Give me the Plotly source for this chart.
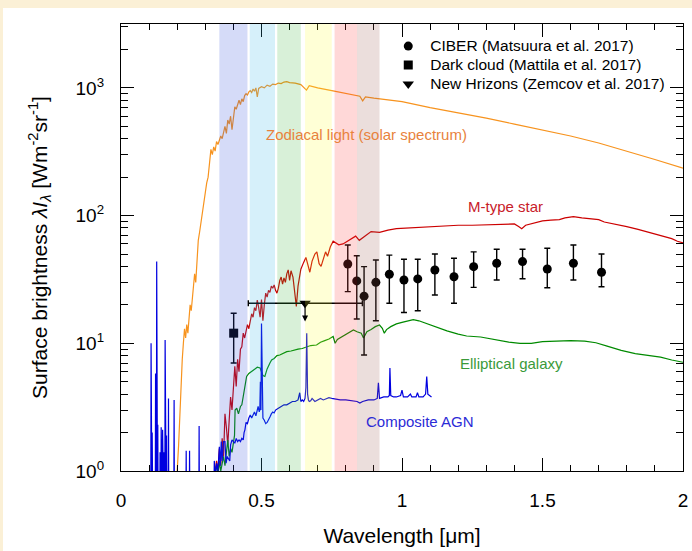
import numpy as np
import plotly.graph_objects as go

# ---------------- spectra ----------------
zodi_wl = [0.195, 0.200, 0.205, 0.210, 0.215, 0.218, 0.222, 0.226, 0.230, 0.234, 0.238, 0.242,
           0.246, 0.250, 0.254, 0.258, 0.262, 0.266, 0.270, 0.275, 0.280, 0.285, 0.290, 0.295,
           0.300, 0.305, 0.310, 0.315, 0.320, 0.325, 0.330, 0.335, 0.340, 0.345, 0.350, 0.355,
           0.360, 0.365, 0.370, 0.375, 0.380, 0.385, 0.390, 0.395, 0.400, 0.405, 0.410, 0.415,
           0.420, 0.425, 0.430, 0.435, 0.440, 0.445, 0.450, 0.455, 0.460, 0.465, 0.470, 0.475,
           0.480, 0.485, 0.490, 0.500, 0.510, 0.520, 0.530, 0.540, 0.550, 0.560, 0.570, 0.580,
           0.590, 0.600, 0.620, 0.640, 0.650, 0.660, 0.670, 0.700, 0.750, 0.800, 0.850, 0.860,
           0.870, 0.900, 0.950, 1.000, 1.100, 1.200, 1.300, 1.400, 1.500, 1.600, 1.700, 1.800,
           1.900, 2.000]
zodi_val = [0.8, 1.0, 1.6, 3.0, 6.5, 7.5, 10, 13, 11, 14, 12, 17,
            20, 18, 22, 26, 35, 30, 45, 64, 75, 90, 110, 130,
            160, 180, 200, 260, 330, 300, 345, 320, 380, 360, 390, 420,
            400, 450, 500, 440, 560, 520, 600, 470, 620, 710, 680, 760,
            800, 740, 820, 780, 870, 900, 880, 930, 950, 920, 980, 940,
            1000, 850, 990, 1020, 1000, 1050, 1030, 1070, 1060, 1090, 1080, 1110,
            1120, 1100, 1090, 1060, 1000, 960, 1040, 1000, 950, 900, 860, 790,
            850, 830, 800, 780, 700, 640, 580, 520, 470, 420, 370, 320,
            275, 235]

mstar_wl = [0.330, 0.340, 0.345, 0.350, 0.355, 0.360, 0.365, 0.370, 0.375, 0.380, 0.385, 0.390,
            0.395, 0.400, 0.405, 0.410, 0.415, 0.420, 0.425, 0.430, 0.435, 0.440, 0.445, 0.450,
            0.455, 0.460, 0.465, 0.470, 0.475, 0.480, 0.485, 0.490, 0.495, 0.500, 0.505, 0.510,
            0.515, 0.520, 0.525, 0.530, 0.535, 0.540, 0.545, 0.550, 0.555, 0.560, 0.565, 0.570,
            0.575, 0.580, 0.585, 0.590, 0.595, 0.600, 0.605, 0.612, 0.618, 0.624, 0.630, 0.640,
            0.650, 0.658, 0.664, 0.672, 0.680, 0.690, 0.697, 0.705, 0.712, 0.720, 0.728, 0.735,
            0.745, 0.755, 0.765, 0.775, 0.790, 0.805, 0.820, 0.835, 0.848, 0.860, 0.875, 0.890,
            0.920, 0.950, 0.980, 1.020, 1.060, 1.110, 1.150, 1.200, 1.250, 1.300, 1.350, 1.400,
            1.415, 1.426, 1.440, 1.470, 1.500, 1.530, 1.560, 1.580, 1.610, 1.640, 1.670, 1.700,
            1.720, 1.760, 1.800, 1.840, 1.880, 1.920, 1.960, 1.980, 2.000]
mstar_val = [0.8, 1.2, 1.0, 1.5, 1.1, 1.8, 1.3, 2.8, 2.2, 1.6, 2.5, 3.8,
             3.0, 4.5, 6.6, 4.6, 7.5, 6.0, 9.0, 9.4, 12, 11, 12.5, 14,
             13, 15.2, 17, 16, 19, 18, 21.8, 19, 16, 22, 15, 20,
             24.7, 23, 26, 25, 28, 27, 28.6, 26, 24.7, 27, 31, 33,
             29, 32.5, 30, 35, 37.6, 31, 37, 33, 25, 19.4, 28, 38,
             43, 47, 42, 36, 44, 50, 52, 42, 40, 46, 52, 48,
             57, 63, 61, 59, 60, 63, 66, 69, 64, 67, 72, 75,
             74, 77, 79, 80, 80, 82, 83, 84, 84, 85, 86, 86,
             82, 79, 84, 88, 91, 92, 93, 96, 98, 96, 95, 93,
             89, 86, 82, 78, 74, 70, 66, 63, 61]

gal_wl = [0.330, 0.340, 0.345, 0.350, 0.355, 0.360, 0.365, 0.370, 0.375, 0.380, 0.385, 0.390,
          0.395, 0.400, 0.404, 0.406, 0.412, 0.418, 0.425, 0.430, 0.436, 0.442, 0.447, 0.455,
          0.465, 0.475, 0.485, 0.495, 0.505, 0.512, 0.520, 0.530, 0.536, 0.545, 0.555, 0.565,
          0.577, 0.590, 0.605, 0.619, 0.630, 0.645, 0.660, 0.675, 0.696, 0.710, 0.725, 0.740,
          0.755, 0.762, 0.770, 0.785, 0.800, 0.815, 0.827, 0.840, 0.855, 0.863, 0.875, 0.890,
          0.905, 0.920, 0.930, 0.937, 0.945, 0.960, 0.980, 1.000, 1.020, 1.040, 1.060, 1.090,
          1.120, 1.160, 1.200, 1.230, 1.280, 1.330, 1.380, 1.420, 1.460, 1.500, 1.550, 1.600,
          1.650, 1.690, 1.730, 1.780, 1.830, 1.870, 1.920, 1.960, 2.000]
gal_val = [0.9, 1.1, 0.9, 1.2, 1.0, 1.15, 1.3, 1.1, 1.4, 1.75, 1.3, 1.5,
           1.4, 1.6, 1.9, 3.0, 3.1, 2.8, 3.2, 3.3, 4.0, 4.8, 5.5, 5.8,
           6.0, 6.2, 6.5, 6.4, 5.6, 5.5, 6.3, 7.0, 7.4, 7.6, 8.0, 8.1,
           8.4, 8.6, 8.7, 8.9, 9.0, 9.1, 9.3, 9.6, 9.7, 10.2, 10.5, 10.8,
           11.3, 10.0, 10.7, 11.2, 11.8, 12.2, 12.7, 12.3, 12.0, 11.0, 12.3, 12.8,
           13.5, 13.9, 13.1, 12.0, 12.8, 13.5, 14.2, 14.6, 15.0, 15.3, 15.0, 14.2,
           13.4, 12.5, 11.8, 11.4, 11.2, 10.7, 10.2, 10.0, 10.0, 10.3, 10.4, 10.5,
           10.4, 10.1, 9.5, 8.8, 8.3, 8.1, 7.8, 7.4, 7.1]

agn_wl = [0.100, 0.106, 0.107, 0.108, 0.110, 0.111, 0.112, 0.113, 0.122, 0.123, 0.124, 0.125,
          0.126, 0.127, 0.128, 0.130, 0.131, 0.132, 0.138, 0.139, 0.140, 0.142, 0.143, 0.144,
          0.147, 0.148, 0.149, 0.152, 0.153, 0.154, 0.156, 0.157, 0.158, 0.161, 0.162, 0.163,
          0.168, 0.169, 0.170, 0.188, 0.189, 0.190, 0.231, 0.232, 0.233, 0.243, 0.244, 0.245,
          0.277, 0.278, 0.279, 0.330, 0.332, 0.336, 0.340, 0.345, 0.350, 0.353, 0.357, 0.360,
          0.365, 0.370, 0.374, 0.378, 0.382, 0.387, 0.390, 0.393, 0.395, 0.400, 0.405, 0.410,
          0.415, 0.420, 0.425, 0.430, 0.435, 0.438, 0.441, 0.445, 0.450, 0.455, 0.460, 0.465,
          0.470, 0.475, 0.480, 0.484, 0.488, 0.492, 0.494, 0.496, 0.498, 0.500, 0.503, 0.505,
          0.510, 0.515, 0.520, 0.525, 0.530, 0.535, 0.540, 0.545, 0.550, 0.560, 0.570, 0.580,
          0.590, 0.600, 0.610, 0.620, 0.630, 0.636, 0.640, 0.645, 0.650, 0.655, 0.658, 0.661,
          0.664, 0.667, 0.670, 0.675, 0.680, 0.690, 0.700, 0.710, 0.720, 0.730, 0.740, 0.750,
          0.760, 0.780, 0.800, 0.820, 0.840, 0.850, 0.860, 0.880, 0.900, 0.912, 0.916, 0.920,
          0.935, 0.950, 0.955, 0.957, 0.960, 0.970, 0.980, 0.995, 1.000, 1.005, 1.020, 1.030,
          1.035, 1.050, 1.055, 1.060, 1.075, 1.084, 1.088, 1.092, 1.105]
agn_val = [0.5, 0.5, 10, 2.2, 0.5, 2.0, 0.5, 0.5, 0.5, 5.8, 0.5, 0.5,
           0.5, 43.6, 0.5, 0.5, 2.3, 0.5, 0.5, 1.4, 0.5, 0.5, 2.2, 0.5,
           0.5, 2.1, 0.5, 0.5, 1.4, 0.5, 0.5, 10.6, 0.5, 0.5, 1.9, 0.5,
           0.5, 3.7, 0.5, 0.5, 3.6, 0.5, 0.5, 1.44, 0.5, 0.5, 1.44, 0.5,
           0.5, 2.25, 0.5, 0.5, 1.2, 0.9, 1.15, 1.0, 1.55, 1.1, 1.7, 1.2,
           1.7, 1.7, 1.15, 1.3, 1.25, 1.2, 1.6, 1.7, 1.75, 1.7, 1.65, 1.8,
           1.7, 1.75, 1.7, 1.8, 1.75, 2.0, 2.1, 2.4, 2.35, 2.6, 2.75, 2.6,
           2.8, 2.9, 2.7, 3.0, 3.2, 2.9, 3.0, 5.0, 3.0, 14.3, 3.0, 2.6,
           2.5, 2.35, 2.4, 2.5, 2.65, 2.8, 2.9, 2.85, 3.0, 3.1, 3.2, 3.3,
           3.3, 3.4, 3.5, 3.5, 3.6, 4.1, 3.5, 3.6, 3.5, 3.7, 4.5, 12.0,
           4.0, 3.6, 3.5, 3.55, 3.7, 3.5, 3.6, 3.7, 3.6, 3.7, 3.75, 3.7,
           3.65, 3.6, 3.6, 3.55, 3.5, 3.4, 3.5, 3.6, 3.6, 3.7, 4.9, 3.7,
           3.8, 3.8, 3.9, 6.4, 3.9, 3.8, 3.8, 3.9, 4.3, 3.8, 3.8, 4.0,
           3.8, 3.8, 4.1, 3.8, 3.8, 4.0, 5.5, 4.0, 3.8]

# ---------------- measurements ----------------
ciber_wl = [0.807, 0.839, 0.865, 0.907, 0.955, 1.007, 1.056, 1.117, 1.185, 1.255, 1.337,
            1.429, 1.517, 1.610, 1.710]
ciber_val = [41.8, 30.8, 23.4, 30.0, 34.7, 31.3, 31.9, 37.5, 33.2, 39.8, 42.3, 43.6, 38.2,
             42.3, 36.0]
ciber_hi = [58.9, 48.5, 39.8, 44.9, 49.0, 45.5, 45.5, 50.0, 46.3, 52.0, 54.5, 54.5, 55.5,
            58.9, 50.0]
ciber_lo = [25.4, 15.5, 8.1, 15.0, 20.6, 17.4, 18.0, 23.9, 20.6, 27.4, 31.3, 32.0, 27.2,
            31.3, 27.7]

dark_wl = [0.401]
dark_val = [12.0]
dark_hi = [17.2]
dark_lo = [7.0]

nh_wl = [0.655]
nh_val = [20.6]
nh_wl_lo = [0.453]
nh_wl_hi = [0.859]
nh_arrow_tip = [14.8]

# colour bands (µm)
band_lo = [0.350, 0.458, 0.556, 0.655, 0.760, 0.840]
band_hi = [0.450, 0.548, 0.640, 0.750, 0.840, 0.920]
band_col = ["rgba(45,75,220,0.2)", "rgba(50,180,230,0.2)", "rgba(60,180,60,0.2)",
            "rgba(255,255,50,0.2)", "rgba(255,60,60,0.2)", "rgba(155,90,80,0.2)"]

x_ticks = [0, 0.5, 1, 1.5, 2]
x_ticktext = ["0", "0.5", "1", "1.5", "2"]
y_ticks = [1, 10, 100, 1000]
y_ticktext = ["10<sup>0</sup>", "10<sup>1</sup>", "10<sup>2</sup>", "10<sup>3</sup>"]

FONT = "Liberation Sans, Arial, Helvetica, sans-serif"


def legend_label(text):
    # larger glyphs than the legend's base size keep the rows tight
    return f"<span style='font-size:15.5px'>{text}</span>"


fig = go.Figure()

line_specs = [
    (zodi_wl, zodi_val, "#F7931E"),
    (mstar_wl, mstar_val, "#CC0000"),
    (gal_wl, gal_val, "#008A00"),
    (agn_wl, agn_val, "#0000E0"),
]
for wl, val, col in line_specs:
    fig.add_trace(go.Scatter(x=wl, y=val, mode="lines", line=dict(color=col, width=1.2),
                             showlegend=False, hoverinfo="skip"))

# CIBER
fig.add_trace(go.Scatter(
    x=ciber_wl, y=ciber_val, mode="markers", name=legend_label("CIBER (Matsuura et al. 2017)"),
    marker=dict(symbol="circle", size=9, color="black"),
    error_y=dict(type="data", symmetric=False,
                 array=[h - v for h, v in zip(ciber_hi, ciber_val)],
                 arrayminus=[v - l for v, l in zip(ciber_val, ciber_lo)],
                 color="black", thickness=1.4, width=3),
))
# dark cloud
fig.add_trace(go.Scatter(
    x=dark_wl, y=dark_val, mode="markers", name=legend_label("Dark cloud (Mattila et al. 2017)"),
    marker=dict(symbol="square", size=9, color="black"),
    error_y=dict(type="data", symmetric=False,
                 array=[h - v for h, v in zip(dark_hi, dark_val)],
                 arrayminus=[v - l for v, l in zip(dark_val, dark_lo)],
                 color="black", thickness=1.4, width=3),
))
# New Horizons upper limit
fig.add_trace(go.Scatter(
    x=nh_wl, y=nh_val, mode="markers", name=legend_label("New Hrizons (Zemcov et al. 2017)"),
    marker=dict(symbol="triangle-down", size=10, color="black"),
    error_x=dict(type="data", symmetric=False,
                 array=[h - w for h, w in zip(nh_wl_hi, nh_wl)],
                 arrayminus=[w - l for w, l in zip(nh_wl, nh_wl_lo)],
                 color="black", thickness=1.4, width=3),
))
fig.add_annotation(x=nh_wl[0], y=np.log10(nh_arrow_tip[0]), ax=nh_wl[0], ay=np.log10(nh_val[0]),
                   xref="x", yref="y", axref="x", ayref="y", showarrow=True, text="",
                   arrowhead=2, arrowsize=1, arrowwidth=1.2, arrowcolor="black")

for lo, hi, col in zip(band_lo, band_hi, band_col):
    fig.add_shape(type="rect", xref="x", yref="paper", x0=lo, x1=hi, y0=0, y1=1,
                  fillcolor=col, line=dict(width=0), layer="above")

labels = [
    ("Zodiacal light (solar spectrum)", 0.872, 435, "#E8823C"),
    ("M-type star", 1.367, 117, "#C8202A"),
    ("Elliptical galaxy", 1.391, 7.0, "#3A9A3A"),
    ("Composite AGN", 1.064, 2.46, "#2B2BD6"),
]
for txt, lx, ly, col in labels:
    fig.add_annotation(x=lx, y=np.log10(ly), text=txt, showarrow=False,
                       font=dict(family=FONT, size=15, color=col))

W, H = 692, 551
ML, MR, MT, MB = 121, 9, 24, 80
pw, ph = W - ML - MR, H - MT - MB
# cream page edge on the top and left
fig.add_shape(type="rect", xref="paper", yref="paper", layer="below",
              x0=-ML / pw, x1=(W - ML) / pw, y0=(H - MB - 8) / ph, y1=(H - MB) / ph,
              fillcolor="#FBF0D6", line=dict(width=0))
fig.add_shape(type="rect", xref="paper", yref="paper", layer="below",
              x0=-ML / pw, x1=(-ML + 3) / pw, y0=-MB / ph, y1=(H - MB) / ph,
              fillcolor="#FBF0D6", line=dict(width=0))

axis_common = dict(showline=True, linecolor="black", linewidth=1.2, mirror="ticks",
                   ticks="inside", tickcolor="black", tickwidth=1.2, ticklen=13,
                   showgrid=False, zeroline=False,
                   tickfont=dict(family=FONT, size=19, color="black"))

fig.update_xaxes(range=[0, 2], tickmode="array", tickvals=x_ticks, ticktext=x_ticktext,
                 minor=dict(ticks="inside", dtick=0.1, tick0=0, ticklen=6, tickwidth=1.2,
                            tickcolor="black"),
                 ticklabelstandoff=12,
                 title=dict(text="Wavelength [μm]", font=dict(family=FONT, size=21, color="black"),
                            standoff=18),
                 **axis_common)
y_minor = [m * 10 ** d for d in range(0, 4) for m in range(2, 10) if m * 10 ** d < 3200]
fig.update_yaxes(type="log", range=[0, 3.5], tickmode="array", tickvals=y_ticks,
                 ticktext=y_ticktext,
                 minor=dict(ticks="inside", tickvals=y_minor, ticklen=7, tickwidth=1.2,
                            tickcolor="black"),
                 ticklabelstandoff=12,
                 title=dict(text="Surface brightness <i>λI</i><sub><i>λ</i></sub> [Wm<sup>-2</sup>sr<sup>-1</sup>]",
                            font=dict(family=FONT, size=21, color="black"), standoff=22),
                 **axis_common)

fig.update_layout(
    width=W, height=H,
    margin=dict(l=ML, r=MR, t=MT, b=MB, autoexpand=False),
    paper_bgcolor="white", plot_bgcolor="white",
    font=dict(family=FONT, color="black"),
    legend=dict(x=0.472, y=0.983, xanchor="left", yanchor="top", bgcolor="rgba(0,0,0,0)",
                font=dict(family=FONT, size=12, color="black"), borderwidth=0,
                itemwidth=34),
)

fig.write_html("out.html")
